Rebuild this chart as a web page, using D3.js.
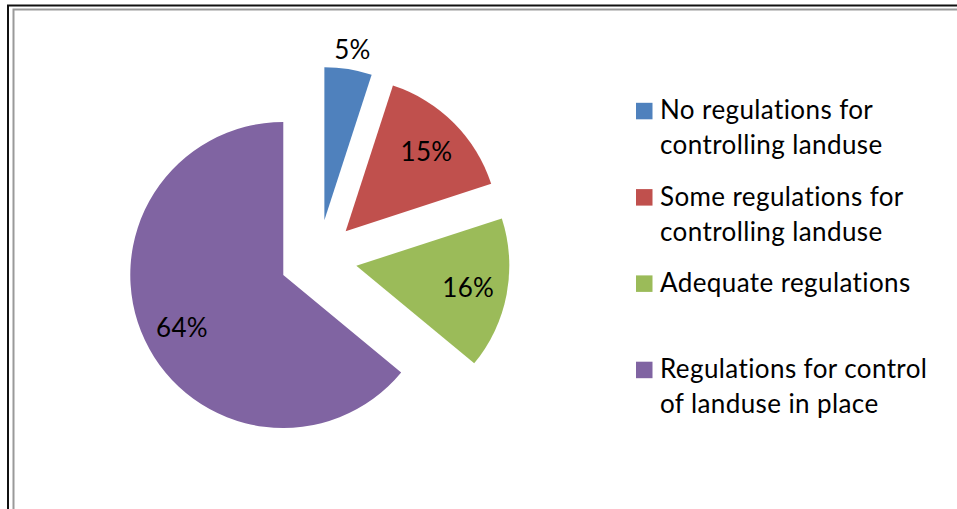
<!DOCTYPE html>
<html>
<head>
<meta charset="utf-8">
<script src="https://cdn.jsdelivr.net/npm/d3@7"></script>
<style>
  html, body { margin: 0; padding: 0; background: #fff; }
  svg { display: block; }
  text { font-family: Lato, "Open Sans", sans-serif; fill: #000; }
</style>
</head>
<body>
<svg id="chart" width="957" height="509"></svg>
<script>
// Survey answers on land-use regulation (percent of respondents)
const categories = [
  "No regulations for controlling landuse",
  "Some regulations for controlling landuse",
  "Adequate regulations",
  "Regulations for control of landuse in place"
];
// Legend lines as they wrap under each swatch
const legendLines = [
  ["No regulations for", "controlling landuse"],
  ["Some regulations for", "controlling landuse"],
  ["Adequate regulations"],
  ["Regulations for control", "of landuse in place"]
];
const shares = [5, 15, 16, 64];
const colors = ["#4F81BD", "#C0504D", "#9BBB59", "#8064A2"];

const W = 957, H = 509;
const svg = d3.select("#chart");
svg.append("rect").attr("width", W).attr("height", H).attr("fill", "#fff");

// Double frame along the top and left edges
svg.append("path")
  .attr("d", `M8,${H} V5.5 H${W}`)
  .attr("fill", "none").attr("stroke", "#111").attr("stroke-width", 2);
svg.append("path")
  .attr("d", `M13.5,${H} V9.5 H${W}`)
  .attr("fill", "none").attr("stroke", "#9a9a9a").attr("stroke-width", 2);

// Exploded pie
const cx = 318.3, cy = 258.5, radius = 153, explode = 38.7;
const pie = d3.pie().sort(null).value(d => d.value);
const arcs = pie(shares.map((v, i) => ({ value: v, name: categories[i], color: colors[i] })));
const arc = d3.arc().innerRadius(0).outerRadius(radius);

const g = svg.append("g").attr("transform", `translate(${cx},${cy})`);

const slices = g.selectAll("g.slice")
  .data(arcs)
  .join("g")
  .attr("class", "slice")
  .attr("transform", d => {
    const m = (d.startAngle + d.endAngle) / 2;
    return `translate(${explode * Math.sin(m)},${-explode * Math.cos(m)})`;
  });

slices.append("path")
  .attr("d", arc)
  .attr("fill", d => d.data.color);

// Percent labels: small slices get their label just outside the rim
slices.append("text")
  .attr("text-anchor", "middle")
  .attr("dominant-baseline", "central")
  .attr("font-size", 26)
  .attr("letter-spacing", 0.3)
  .attr("transform", d => {
    const m = (d.startAngle + d.endAngle) / 2;
    const dist = d.data.value < 10 ? 173 : 113;
    const dy = d.data.value > 50 ? 4 : 0;
    return `translate(${dist * Math.sin(m) + 1},${-dist * Math.cos(m) + dy})`;
  })
  .text(d => d.data.value + "%");

// Legend
const legend = svg.append("g");
const item = legend.selectAll("g.item")
  .data(legendLines)
  .join("g")
  .attr("class", "item")
  .attr("transform", (d, i) => `translate(636,${119.3 + 86.3 * i})`);

item.append("rect")
  .attr("x", 0).attr("y", -16.5)
  .attr("width", 16.5).attr("height", 16.5)
  .attr("fill", (d, i) => colors[i]);

item.append("text")
  .attr("x", 24)
  .attr("font-size", 26)
  .attr("letter-spacing", 0.4)
  .selectAll("tspan")
  .data(d => d)
  .join("tspan")
  .attr("x", 24)
  .attr("dy", (d, j) => j === 0 ? 0 : 35)
  .text(d => d);
</script>
</body>
</html>
